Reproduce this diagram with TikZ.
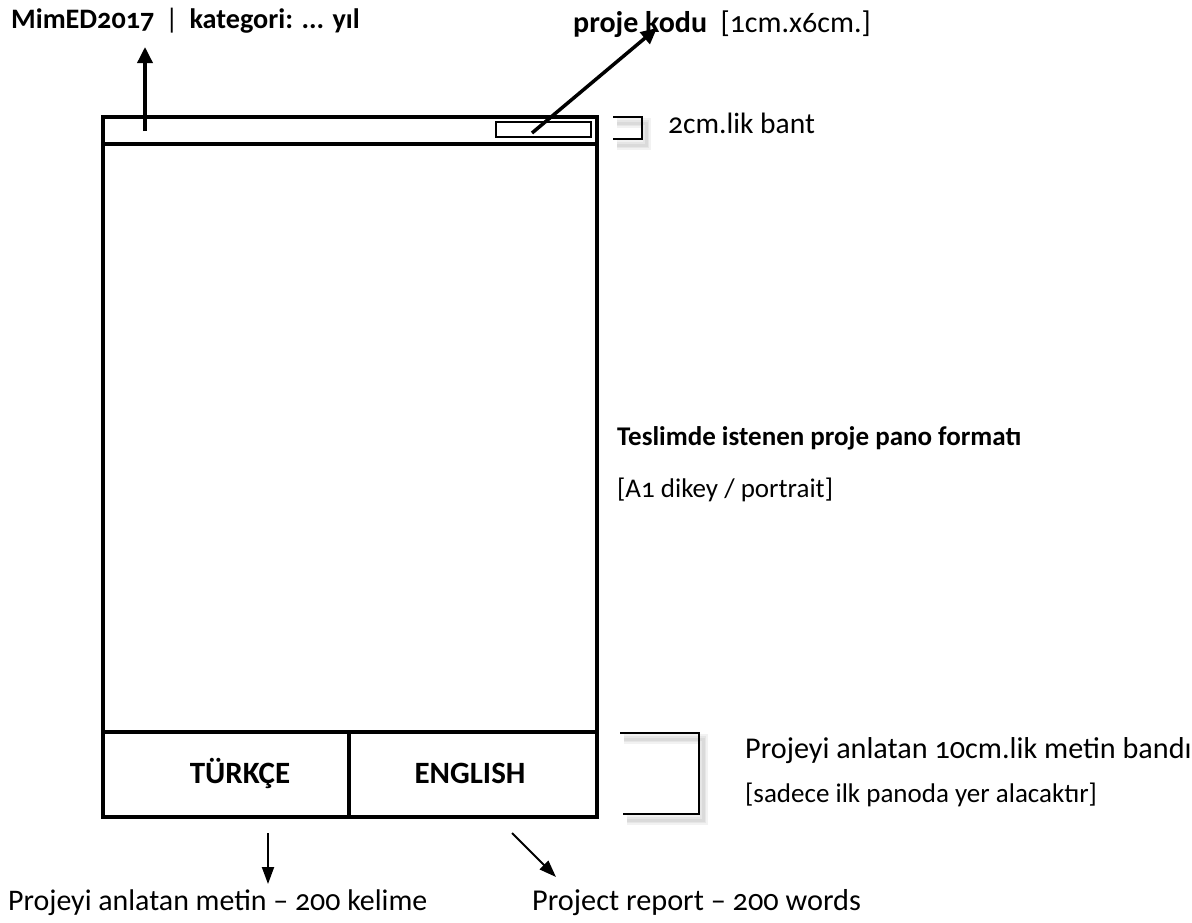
\documentclass[tikz,border=0pt]{standalone}
\usepackage{fontspec}
\setmainfont{Carlito}[Numbers=OldStyle]
\usetikzlibrary{arrows.meta,positioning}

\begin{document}
\begin{tikzpicture}[x=1pt, y=-1pt,
  pano/.style={line width=4.5pt, line join=miter},
  kalin/.style={font=\fontsize{#1}{#1}\selectfont\bfseries},
  kalin/.default=27,
  ince/.style={font=\fontsize{#1}{#1}\selectfont},
  ince/.default=29,
  ok/.style={line width=3.5pt, -{Triangle[length=16pt,width=15pt]}},
  okince/.style={line width=2pt, -{Triangle[length=17pt,width=12pt]}},
  kose/.style={line width=2.5pt, line join=miter},
  golge/.style={line width=#1, black, opacity=.05, transform canvas={shift={(4pt,-6pt)}}}]
\tikzstyle{every node}=[inner sep=0pt, anchor=base west] %%
\useasboundingbox (0,0) rectangle (1192,922);

% pano
\draw[pano] (103,117) rectangle (597,817);
\draw[pano] (103,144) -- (597,144);
\draw[pano] (103,732) -- (597,732);
\draw[pano] (349,732) -- (349,817);
\node[draw, line width=1.5pt, anchor=center, minimum width=95pt, minimum height=15pt] (kutu) at (543.5,129.5) {};

% yazilar
\node[kalin=28.2] (baslik) at (11,28) {MimED2017 \,{\mdseries |}\, kategori: ... yıl};
\node[kalin=30] (kod) at (573,32) {proje kodu};
\node[ince=30] (olcu) at ([xshift=13pt]kod.base east) {[1cm.x6cm.]};
\node[ince=29.5] (bant) at (668,133) {2cm.lik bant};
\node[kalin] (format) at (617,445) {Teslimde istenen proje pano formatı};
\node[ince=27] (dikey) at (617,497) {[A1 dikey / portrait]};
\node[kalin=31, anchor=base] (tr) at (240,783) {TÜRKÇE};
\node[kalin=31, anchor=base] (en) at (470,783) {ENGLISH};
\node[ince=30.2] (metin) at (745,758) {Projeyi anlatan 10cm.lik metin bandı};
\node[ince=27] (ilk) at (745,802) {[sadece ilk panoda yer alacaktır]};
\node[ince=29.9] (trmetin) at (8,910) {Projeyi anlatan metin – 200 kelime};
\node[ince=30.3] (enmetin) at (532,910) {Project report – 200 words};

% oklar
\coordinate (a1) at (145,131);
\coordinate (a2) at (145,47);
\coordinate (k1) at (532,133);
\coordinate (k2) at (657,28);
\coordinate (t1) at (268,833);
\coordinate (t2) at (268,884);
\coordinate (e1) at (512,833);
\coordinate (e2) at (556,877);
\draw[ok] (a1) -- (a2);
\draw[ok] (k1) -- (k2);
\draw[okince] (t1) -- (t2);
\draw[okince] (e1) -- (e2);

% koseli ayraclar
\foreach \w in {10pt,6pt,3pt} {
  \draw[golge=\w] (613,117) -- (642,117) -- (642,139) -- (613,139);
  \draw[golge=\w] (620,733) -- (699,733) -- (699,814) -- (623,814);
}
\draw[kose] (613,117) -- (642,117) -- (642,139) -- (613,139);
\draw[kose] (620,733) -- (699,733) -- (699,814) -- (623,814);
\end{tikzpicture}
\end{document}
